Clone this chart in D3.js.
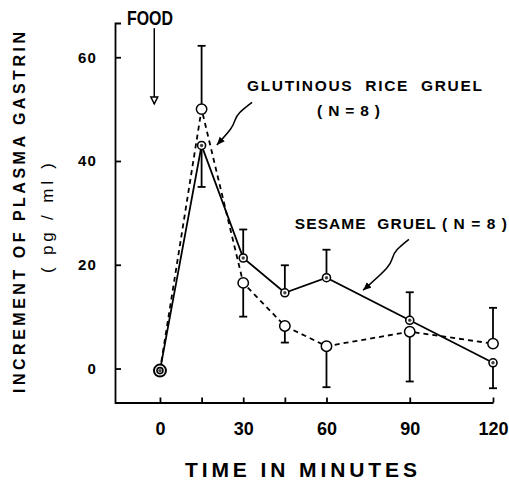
<html>
<head>
<meta charset="utf-8">
<title>Plasma gastrin after gruel</title>
<style type="text/css">
body { margin: 0; background: #fff; }
svg { font-family: "Liberation Sans", Arial, sans-serif; }
.axis path, .axis line { stroke: #000; stroke-width: 1.8px; }
.axis text { font-weight: bold; fill: #000; }
.note { font-weight: bold; fill: #000; white-space: pre; }
</style>
</head>
<body>
<script src="https://d3js.org/d3.v7.min.js"></script>
<script>
// time points (minutes) and group means (pg/ml increment)
var minutes = [0, 15, 30, 45, 60, 90, 120];
var sesame = [-0.4, 43, 21.3, 14.6, 17.5, 9.3, 1.1];
var rice = [-0.4, 50, 16.5, 8.2, 4.3, 7.1, 4.8];
// error bars, signed: + drawn upward, - drawn downward
var sesameErr = [0, -8, 5.5, 5.3, 5.4, 5.4, -4.9];
var riceErr = [0, 12.2, -6.5, -3.2, -7.9, -9.6, 6.9];

var xTicks = [0, 15, 30, 45, 60, 90, 120];
var xLabels = [0, 30, 60, 90, 120];
var yTicks = [0, 20, 40, 60];

var W = 509, H = 480;

var x = d3.scaleLinear().domain([-16.2, 120]).range([115, 493]),
    y = d3.scaleLinear().domain([-6.55, 66.6]).range([402.5, 23]);

var svg = d3.select("body").append("svg")
    .attr("width", W)
    .attr("height", H);

var defs = svg.append("defs");
defs.append("marker")
    .attr("id", "head")
    .attr("viewBox", "0 -4 9 8")
    .attr("refX", 8).attr("refY", 0)
    .attr("markerWidth", 9).attr("markerHeight", 8)
    .attr("markerUnits", "userSpaceOnUse")
    .attr("orient", "auto")
  .append("path")
    .attr("d", "M0,-3.5L8,0L0,3.5Z")
    .attr("fill", "#000");
defs.append("marker")
    .attr("id", "openhead")
    .attr("viewBox", "-1 -5 10 10")
    .attr("refX", 7).attr("refY", 0)
    .attr("markerWidth", 10).attr("markerHeight", 10)
    .attr("markerUnits", "userSpaceOnUse")
    .attr("orient", "auto")
  .append("path")
    .attr("d", "M0,-3.5L7,0L0,3.5Z")
    .attr("fill", "#fff")
    .attr("stroke", "#000")
    .attr("stroke-width", 1.4);

// axes
svg.append("g")
    .attr("class", "axis")
    .attr("transform", "translate(0,402.5)")
    .call(d3.axisBottom(x).tickValues(xTicks).tickSize(-5).tickSizeOuter(0)
      .tickPadding(19.5).tickFormat(function(d) { return xLabels.indexOf(d) >= 0 ? d : ""; }))
    .call(function(g) { g.selectAll("text").attr("font-size", 18); });

svg.append("g")
    .attr("class", "axis")
    .attr("transform", "translate(115,0)")
    .call(d3.axisLeft(y).tickValues(yTicks).tickSize(-6).tickSizeOuter(-6).tickPadding(18))
    .call(function(g) { g.selectAll("text").attr("font-size", 15).attr("letter-spacing", 1.2); });

// series lines
var line = d3.line()
    .x(function(d, i) { return x(minutes[i]); })
    .y(function(d) { return y(d); });

svg.append("path")
    .attr("d", line(rice))
    .attr("fill", "none")
    .attr("stroke", "#000")
    .attr("stroke-width", 1.8)
    .attr("stroke-dasharray", "5,4");

svg.append("path")
    .attr("d", line(sesame))
    .attr("fill", "none")
    .attr("stroke", "#000")
    .attr("stroke-width", 1.8);

// error bars
function errBars(vals, errs) {
  var g = svg.append("g").attr("stroke", "#000").attr("stroke-width", 1.8);
  vals.forEach(function(v, i) {
    if (!errs[i]) return;
    var cx = x(minutes[i]), y0 = y(v), y1 = y(v + errs[i]);
    g.append("line").attr("x1", cx).attr("x2", cx).attr("y1", y0).attr("y2", y1);
    g.append("line").attr("x1", cx - 4).attr("x2", cx + 4).attr("y1", y1).attr("y2", y1);
  });
}
errBars(rice, riceErr);
errBars(sesame, sesameErr);

// markers
svg.append("g").selectAll("circle")
    .data(rice)
  .join("circle")
    .attr("cx", function(d, i) { return x(minutes[i]); })
    .attr("cy", function(d) { return y(d); })
    .attr("r", function(d, i) { return i === 0 ? 6 : 5.2; })
    .attr("fill", "#fff")
    .attr("stroke", "#000")
    .attr("stroke-width", function(d, i) { return i === 0 ? 2 : 1.5; });

var sm = svg.append("g");
sm.selectAll("circle.o")
    .data(sesame)
  .join("circle")
    .attr("class", "o")
    .attr("cx", function(d, i) { return x(minutes[i]); })
    .attr("cy", function(d) { return y(d); })
    .attr("r", function(d, i) { return i === 0 ? 3 : 4; })
    .attr("fill", "#fff")
    .attr("stroke", "#000")
    .attr("stroke-width", 1.6);
sm.selectAll("circle.i")
    .data(sesame)
  .join("circle")
    .attr("class", "i")
    .attr("cx", function(d, i) { return x(minutes[i]); })
    .attr("cy", function(d) { return y(d); })
    .attr("r", 1.7)
    .attr("fill", "#444");

// annotation arrows (in data units)
var arrow = d3.line()
    .x(function(d) { return x(d[0]); })
    .y(function(d) { return y(d[1]); })
    .curve(d3.curveBasis);

var riceArrow = [[33.2, 51.3], [28.1, 49.2], [27.0, 47.9], [26.3, 46.5], [20.5, 43.1]];
var sesameArrow = [[89.7, 24.9], [85.0, 22.9], [83.6, 21.3], [83.2, 19.8], [73.2, 15.1]];
var foodArrow = [[-2.05, 65.6], [-2.05, 51.0]];

[riceArrow, sesameArrow].forEach(function(pts) {
  svg.append("path")
      .attr("d", arrow(pts))
      .attr("fill", "none")
      .attr("stroke", "#000")
      .attr("stroke-width", 1.5)
      .attr("marker-end", "url(#head)");
});
svg.append("path")
    .attr("d", d3.line().x(function(d) { return x(d[0]); }).y(function(d) { return y(d[1]); })(foodArrow))
    .attr("fill", "none")
    .attr("stroke", "#000")
    .attr("stroke-width", 1.5)
    .attr("marker-end", "url(#openhead)");

// annotation labels
function note(txt, xv, yv, size, len, adj) {
  svg.append("text")
      .attr("class", "note")
      .attr("x", x(xv)).attr("y", y(yv))
      .attr("font-size", size)
      .attr("textLength", len)
      .attr("lengthAdjust", adj || "spacing")
      .text(txt);
}
note("FOOD", -11.9, 66.2, 21, 46, "spacingAndGlyphs");
note("GLUTINOUS  RICE  GRUEL", 31.35, 53.5, 15.5, 235);
note("( N = 8 )", 56.6, 48.65, 15.5, 63);
note("SESAME  GRUEL ( N = 8 )", 48.6, 26.9, 15.5, 212);

// axis titles
svg.append("text")
    .attr("class", "note")
    .attr("transform", "translate(25,212.5) rotate(-90)")
    .attr("text-anchor", "middle")
    .attr("font-size", 16)
    .attr("textLength", 361)
    .attr("lengthAdjust", "spacing")
    .text("INCREMENT OF PLASMA GASTRIN");

svg.append("text")
    .attr("transform", "translate(53,218) rotate(-90)")
    .attr("text-anchor", "middle")
    .attr("font-size", 17)
    .attr("textLength", 110)
    .attr("lengthAdjust", "spacing")
    .text("( pg / ml )");

svg.append("text")
    .attr("class", "note")
    .attr("x", 301).attr("y", 477)
    .attr("text-anchor", "middle")
    .attr("font-size", 21)
    .attr("textLength", 232)
    .attr("lengthAdjust", "spacing")
    .text("TIME IN MINUTES");
</script>
</body>
</html>
